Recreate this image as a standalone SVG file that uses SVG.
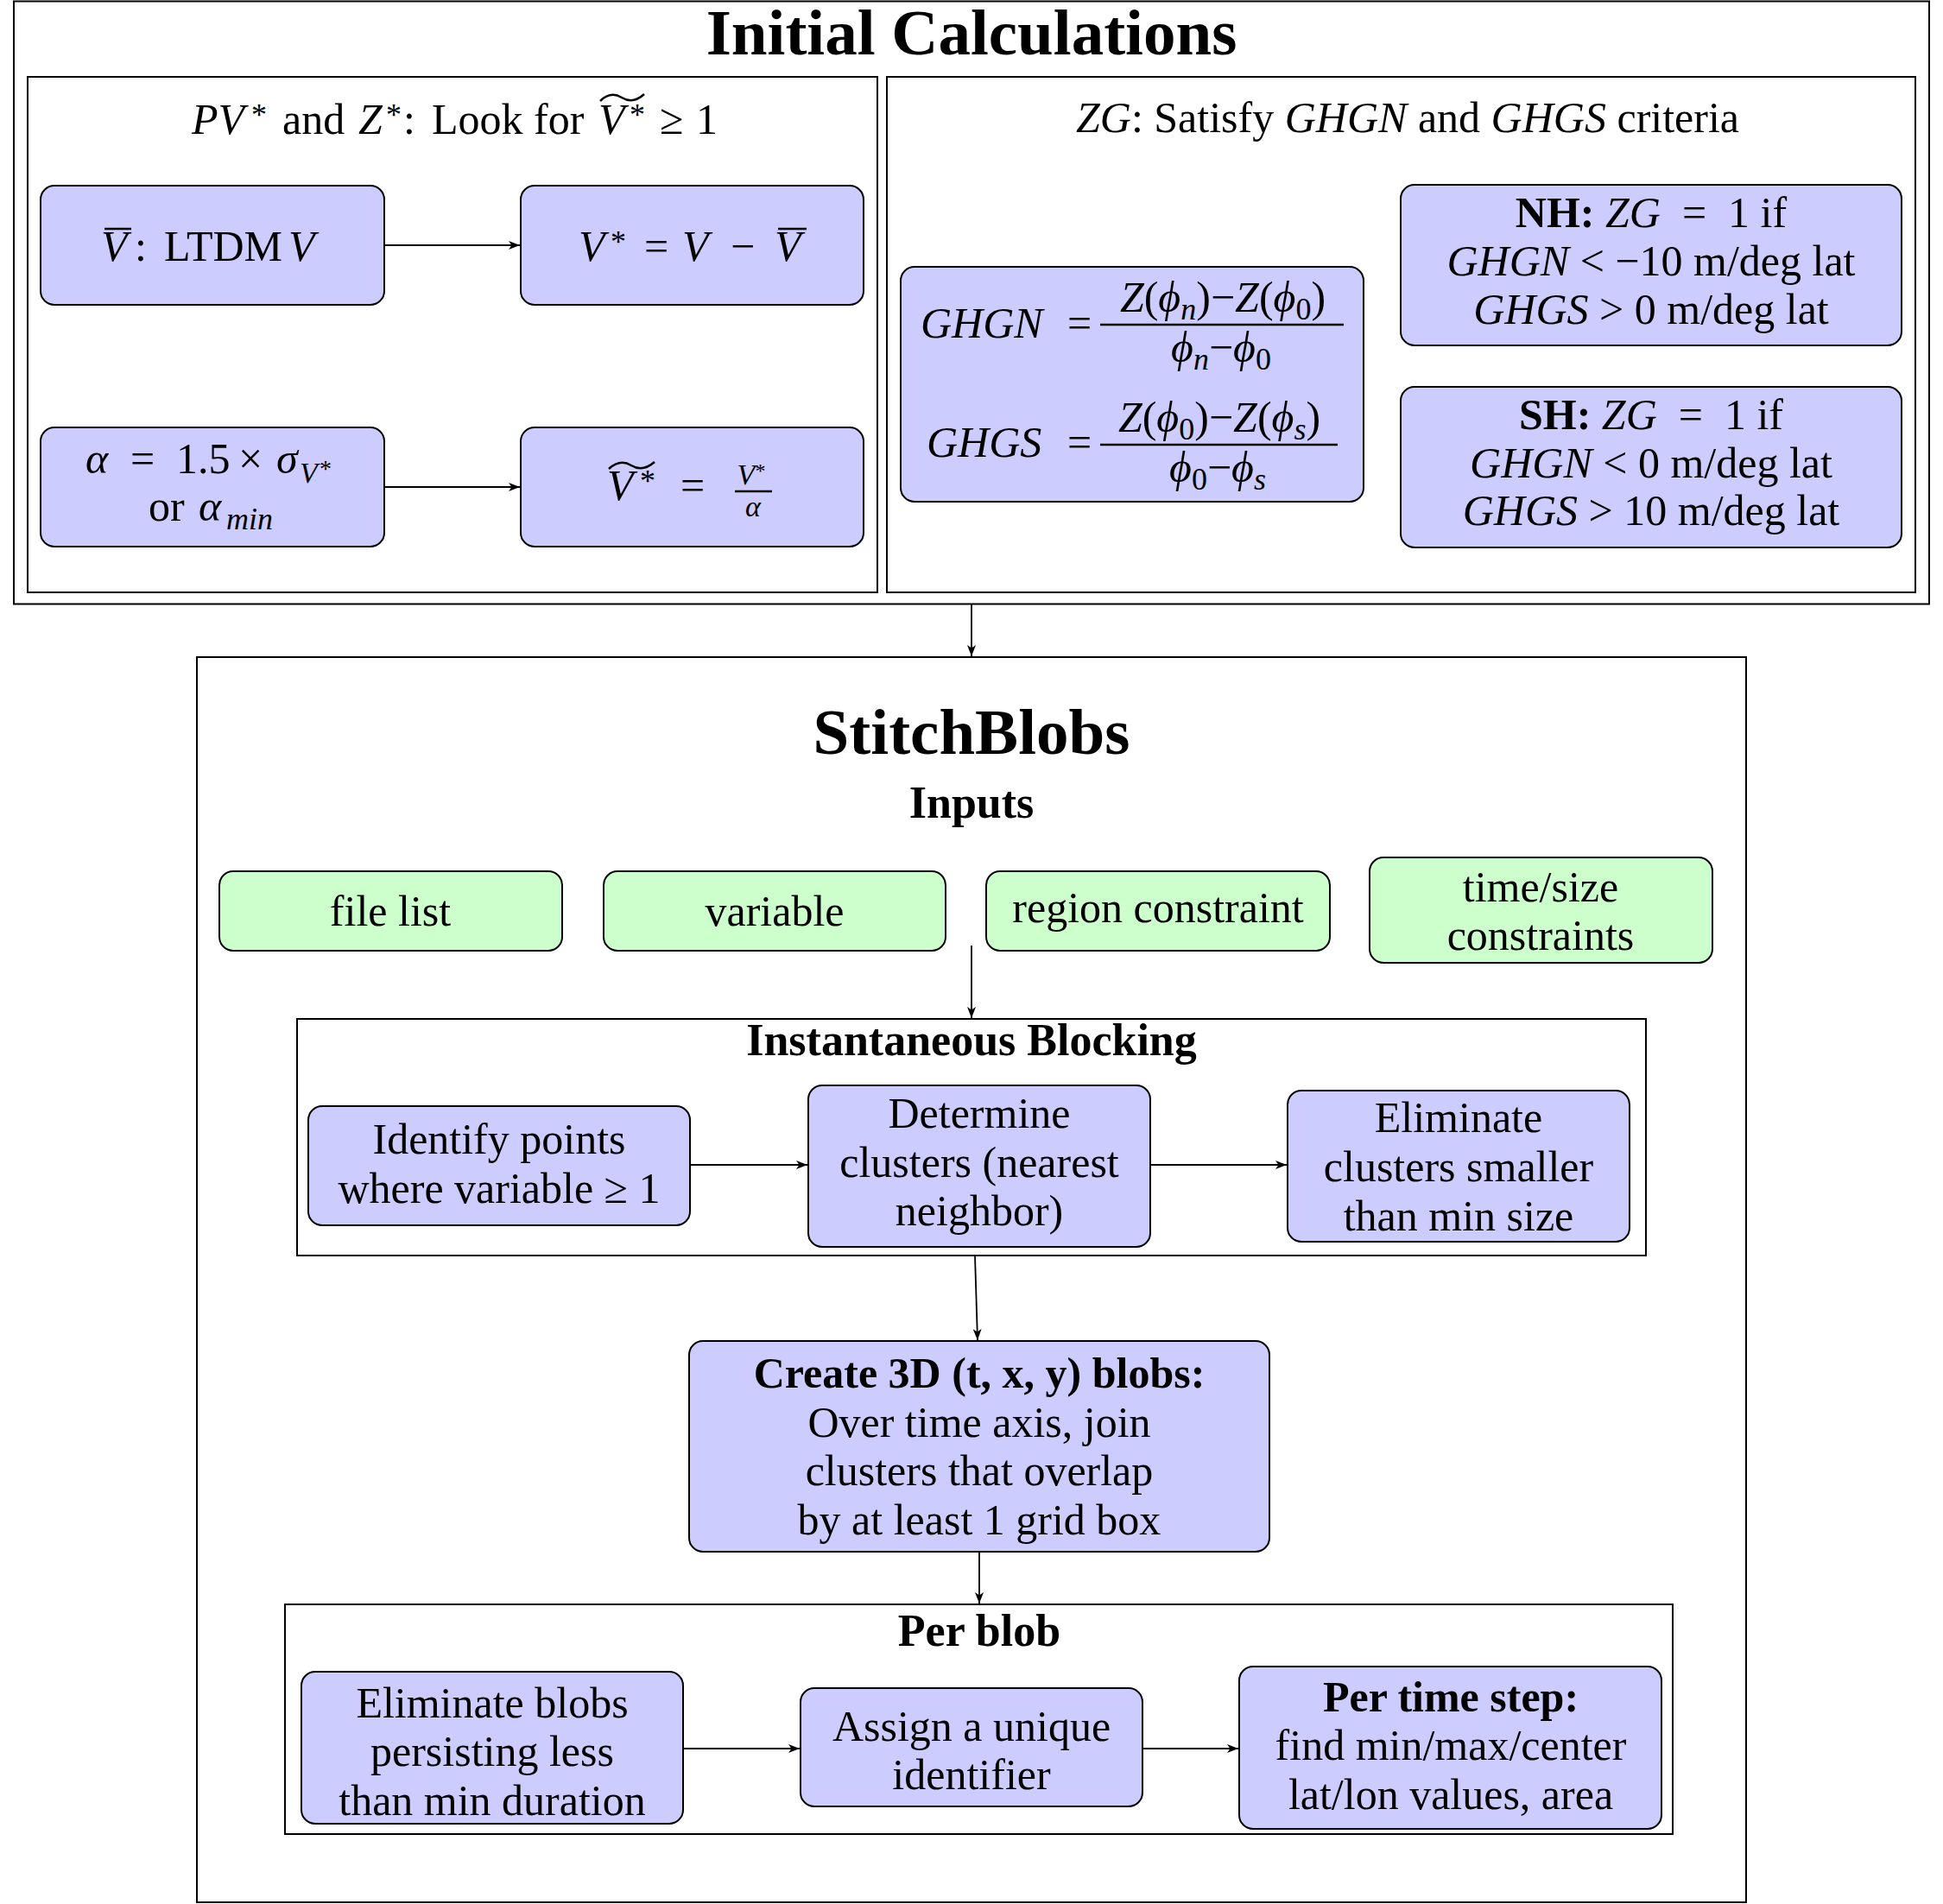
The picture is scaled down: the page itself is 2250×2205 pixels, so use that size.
<svg xmlns="http://www.w3.org/2000/svg" width="2250" height="2205" viewBox="0 0 2250 2205">
<style>
text{font-family:"Liberation Serif","Times New Roman",serif;fill:#000}
.t{font-size:50px}
.c{text-anchor:middle}
.i{font-style:italic}
.b{font-weight:bold}
.ti{font-size:75px;font-weight:bold;text-anchor:middle}
.hd{font-size:52px;font-weight:bold;text-anchor:middle}
.box{fill:none;stroke:#000;stroke-width:2}
.nb{fill:#ccccff;stroke:#000;stroke-width:2}
.ng{fill:#ccffcc;stroke:#000;stroke-width:2}
.dec{fill:none;stroke:#000;stroke-width:2.5}
.bar{stroke:#000;stroke-width:2.5}
.con{fill:none;stroke:#000;stroke-width:1.8;marker-end:url(#arr)}
</style>
<defs>
<marker id="arr" markerUnits="userSpaceOnUse" markerWidth="14" markerHeight="10" refX="13" refY="5" orient="auto">
<path d="M0,0 L13,5 L0,10 L3.5,5 z" fill="#000"/>
</marker>
</defs>
<rect width="2250" height="2205" fill="#fff"/>

<g id="initial-calculations">
<rect class="box" x="16" y="1.5" width="2218" height="698"/>
<text class="ti" x="1125" y="63">Initial Calculations</text>
</g>

<g id="pv-z-panel">
<rect class="box" x="32" y="89" width="984" height="597"/>
<text class="t" y="155"><tspan x="222" class="i">PV</tspan><tspan x="291" y="145" font-size="36">*</tspan><tspan x="327" y="155">and</tspan><tspan x="415" class="i">Z</tspan><tspan x="447" y="145" font-size="36">*</tspan><tspan x="467" y="155">:</tspan><tspan x="500">Look for</tspan><tspan x="693" class="i">V</tspan><tspan x="729" y="145" font-size="36">*</tspan><tspan x="764" y="155">≥</tspan><tspan x="806">1</tspan></text>
<path class="dec" d="M695,117 Q707,105 720,113 T746,109"/>
</g>

<g id="node-vbar">
<rect class="nb" x="47" y="215" width="398" height="138" rx="16"/>
<text class="t" y="302"><tspan x="117" class="i">V</tspan><tspan x="156">:</tspan><tspan x="190">LTDM</tspan><tspan x="334" class="i">V</tspan></text>
<line class="bar" x1="121" y1="265" x2="152" y2="265"/>
</g>

<g id="node-vstar">
<rect class="nb" x="603" y="215" width="397" height="138" rx="16"/>
<text class="t" y="302"><tspan x="670" class="i">V</tspan><tspan x="707" y="292" font-size="36">*</tspan><tspan x="746" y="302">=</tspan><tspan x="790" class="i">V</tspan><tspan x="846">−</tspan><tspan x="897" class="i">V</tspan></text>
<line class="bar" x1="901" y1="265" x2="934" y2="265"/>
</g>

<g id="node-alpha">
<rect class="nb" x="47" y="495" width="398" height="138" rx="16"/>
<text class="t" y="548"><tspan x="99" class="i">α</tspan><tspan x="151">=</tspan><tspan x="204">1.5</tspan><tspan x="276">×</tspan><tspan x="320" class="i">σ</tspan><tspan x="347" y="559" class="i" font-size="34">V</tspan><tspan x="370" y="552" font-size="28">*</tspan></text>
<text class="t" y="603"><tspan x="172">or</tspan><tspan x="230" class="i">α</tspan><tspan x="262" y="613" class="i" font-size="36">min</tspan></text>
</g>

<g id="node-vtilde">
<rect class="nb" x="603" y="495" width="397" height="138" rx="16"/>
<text class="t" y="579"><tspan x="703" class="i">V</tspan><tspan x="741" y="569" font-size="36">*</tspan><tspan x="788" y="579">=</tspan></text>
<path class="dec" d="M705,543 Q718,531 731,539 T758,535"/>
<text class="i c" x="870" y="561" font-size="34">V<tspan font-style="normal" font-size="24" dy="-8">*</tspan></text>
<line class="bar" x1="851" y1="569" x2="894" y2="569"/>
<text class="i c" x="872" y="598" font-size="34">α</text>
</g>

<g id="zg-panel">
<rect class="box" x="1027" y="89" width="1191" height="597"/>
<text class="t c" x="1630" y="153" font-size="53"><tspan class="i">ZG</tspan>: Satisfy <tspan class="i">GHGN</tspan> and <tspan class="i">GHGS</tspan> criteria</text>
</g>

<g id="node-ghgn-ghgs">
<rect class="nb" x="1043" y="309" width="536" height="272" rx="16"/>
<text class="t" y="391"><tspan x="1066" class="i">GHGN</tspan><tspan x="1236">=</tspan></text>
<text class="t c" x="1416" y="361" font-size="53"><tspan class="i">Z</tspan>(<tspan class="i">ϕ</tspan><tspan class="i" font-size="36" dy="9">n</tspan><tspan dy="-9">)−</tspan><tspan class="i">Z</tspan>(<tspan class="i">ϕ</tspan><tspan font-size="36" dy="9">0</tspan><tspan dy="-9">)</tspan></text>
<line class="bar" x1="1274" y1="376" x2="1556" y2="376"/>
<text class="t c" x="1414" y="419" font-size="53"><tspan class="i">ϕ</tspan><tspan class="i" font-size="36" dy="9">n</tspan><tspan dy="-9">−</tspan><tspan class="i">ϕ</tspan><tspan font-size="36" dy="9">0</tspan></text>
<text class="t" y="529"><tspan x="1073" class="i">GHGS</tspan><tspan x="1236">=</tspan></text>
<text class="t c" x="1412" y="500" font-size="53"><tspan class="i">Z</tspan>(<tspan class="i">ϕ</tspan><tspan font-size="36" dy="9">0</tspan><tspan dy="-9">)−</tspan><tspan class="i">Z</tspan>(<tspan class="i">ϕ</tspan><tspan class="i" font-size="36" dy="9">s</tspan><tspan dy="-9">)</tspan></text>
<line class="bar" x1="1274" y1="515" x2="1549" y2="515"/>
<text class="t c" x="1410" y="558" font-size="53"><tspan class="i">ϕ</tspan><tspan font-size="36" dy="9">0</tspan><tspan dy="-9">−</tspan><tspan class="i">ϕ</tspan><tspan class="i" font-size="36" dy="9">s</tspan></text>
</g>

<g id="node-nh">
<rect class="nb" x="1622" y="214" width="580" height="186" rx="16"/>
<text class="t c" x="1912" y="263" font-size="52"><tspan class="b">NH:</tspan> <tspan class="i">ZG</tspan>&#160;&#160;=&#160;&#160;1 if</text>
<text class="t c" x="1912" y="319" font-size="52"><tspan class="i">GHGN</tspan>&#160;&lt;&#160;−10 m/deg lat</text>
<text class="t c" x="1912" y="375" font-size="52"><tspan class="i">GHGS</tspan>&#160;&gt;&#160;0 m/deg lat</text>
</g>

<g id="node-sh">
<rect class="nb" x="1622" y="448" width="580" height="186" rx="16"/>
<text class="t c" x="1912" y="497" font-size="52"><tspan class="b">SH:</tspan> <tspan class="i">ZG</tspan>&#160;&#160;=&#160;&#160;1 if</text>
<text class="t c" x="1912" y="553" font-size="52"><tspan class="i">GHGN</tspan>&#160;&lt;&#160;0 m/deg lat</text>
<text class="t c" x="1912" y="608" font-size="52"><tspan class="i">GHGS</tspan>&#160;&gt;&#160;10 m/deg lat</text>
</g>

<g id="stitchblobs">
<rect class="box" x="228" y="761" width="1794" height="1442"/>
<text class="ti" x="1125" y="873" font-size="76">StitchBlobs</text>
<text class="hd" x="1125" y="947">Inputs</text>
</g>

<g id="input-file-list">
<rect class="ng" x="254" y="1009" width="397" height="92" rx="16"/>
<text class="t c" x="452" y="1072">file list</text>
</g>
<g id="input-variable">
<rect class="ng" x="699" y="1009" width="396" height="92" rx="16"/>
<text class="t c" x="897" y="1072">variable</text>
</g>
<g id="input-region">
<rect class="ng" x="1142" y="1009" width="398" height="92" rx="16"/>
<text class="t c" x="1341" y="1068">region constraint</text>
</g>
<g id="input-time-size">
<rect class="ng" x="1586" y="993" width="397" height="122" rx="16"/>
<text class="t c" x="1784" y="1044">time/size</text>
<text class="t c" x="1784" y="1100">constraints</text>
</g>

<g id="instantaneous-blocking">
<rect class="box" x="344" y="1180" width="1562" height="274"/>
<text class="hd" x="1125" y="1222" font-size="53">Instantaneous Blocking</text>
</g>
<g id="node-identify">
<rect class="nb" x="357" y="1281" width="442" height="138" rx="16"/>
<text class="t c" x="578" y="1336">Identify points</text>
<text class="t c" x="578" y="1393">where variable ≥ 1</text>
</g>
<g id="node-determine">
<rect class="nb" x="936" y="1257" width="396" height="187" rx="16"/>
<text class="t c" x="1134" y="1306">Determine</text>
<text class="t c" x="1134" y="1363">clusters (nearest</text>
<text class="t c" x="1134" y="1419">neighbor)</text>
</g>
<g id="node-eliminate-clusters">
<rect class="nb" x="1491" y="1263" width="396" height="175" rx="16"/>
<text class="t c" x="1689" y="1311">Eliminate</text>
<text class="t c" x="1689" y="1368">clusters smaller</text>
<text class="t c" x="1689" y="1425">than min size</text>
</g>

<g id="node-create-3d">
<rect class="nb" x="798" y="1553" width="672" height="244" rx="16"/>
<text class="t c b" x="1134" y="1607" font-size="53">Create 3D (t, x, y) blobs:</text>
<text class="t c" x="1134" y="1664">Over time axis, join</text>
<text class="t c" x="1134" y="1720">clusters that overlap</text>
<text class="t c" x="1134" y="1777">by at least 1 grid box</text>
</g>

<g id="per-blob">
<rect class="box" x="330" y="1858" width="1607" height="266"/>
<text class="hd" x="1134" y="1906">Per blob</text>
</g>
<g id="node-eliminate-blobs">
<rect class="nb" x="349" y="1936" width="442" height="176" rx="16"/>
<text class="t c" x="570" y="1989">Eliminate blobs</text>
<text class="t c" x="570" y="2045">persisting less</text>
<text class="t c" x="570" y="2102">than min duration</text>
</g>
<g id="node-assign">
<rect class="nb" x="927" y="1955" width="396" height="137" rx="16"/>
<text class="t c" x="1125" y="2016">Assign a unique</text>
<text class="t c" x="1125" y="2072">identifier</text>
</g>
<g id="node-per-time-step">
<rect class="nb" x="1435" y="1930" width="489" height="188" rx="16"/>
<text class="t c b" x="1680" y="1982" font-size="52">Per time step:</text>
<text class="t c" x="1680" y="2038">find min/max/center</text>
<text class="t c" x="1680" y="2095">lat/lon values, area</text>
</g>

<g id="connectors">
<line class="con" x1="445" y1="284" x2="602" y2="284"/>
<line class="con" x1="445" y1="564" x2="602" y2="564"/>
<line class="con" x1="1125" y1="700" x2="1125" y2="760"/>
<line class="con" x1="1125" y1="1095" x2="1125" y2="1179"/>
<line class="con" x1="799" y1="1349" x2="935" y2="1349"/>
<line class="con" x1="1332" y1="1349" x2="1490" y2="1349"/>
<line class="con" x1="1129" y1="1454" x2="1132" y2="1552"/>
<line class="con" x1="1134" y1="1797" x2="1134" y2="1857"/>
<line class="con" x1="791" y1="2025" x2="926" y2="2025"/>
<line class="con" x1="1323" y1="2025" x2="1434" y2="2025"/>
</g>
</svg>
